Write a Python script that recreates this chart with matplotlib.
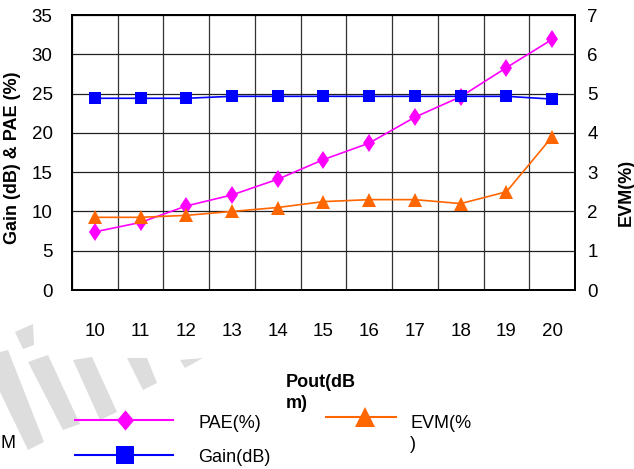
import matplotlib.pyplot as plt
import numpy as np
from matplotlib.lines import Line2D
from matplotlib.patches import Polygon

# data --------------------------------------------------
pout = [10, 11, 12, 13, 14, 15, 16, 17, 18, 19, 20]
pae = [7.4, 8.6, 10.7, 12.1, 14.1, 16.6, 18.7, 22.0, 24.6, 28.3, 31.9]
gain = [24.4, 24.4, 24.4, 24.65, 24.65, 24.65, 24.65, 24.65, 24.65, 24.65, 24.3]
evm = [1.85, 1.85, 1.9, 2.0, 2.1, 2.25, 2.3, 2.3, 2.2, 2.5, 3.9]
left_ticks = [0, 5, 10, 15, 20, 25, 30, 35]
right_ticks = [0, 1, 2, 3, 4, 5, 6, 7]

W, H = 634, 469


def px(x, y):
    """pixel coords of the picture -> figure fraction"""
    return x / W, 1 - y / H


plt.rcParams['font.family'] = ['Liberation Sans', 'DejaVu Sans']

fig = plt.figure(figsize=(W / 100, H / 100), dpi=100)

# watermark stripes ------------------------------
stripes = [
    [(15, 332), (33, 324), (34, 345), (23, 349)],
    [(0, 352), (8, 350), (44, 442), (28, 450), (0, 392)],
    [(28, 362), (48, 355), (80, 424), (63, 430)],
    [(73, 360), (92, 357), (117, 412), (100, 420)],
    [(127, 358), (147, 358), (157, 383), (143, 390)],
    [(180, 360), (203, 358), (185, 368)],
]
for s in stripes:
    fig.add_artist(Polygon([px(*p) for p in s], closed=True, color='#dddddd',
                           lw=0, transform=fig.transFigure, zorder=0))

ax = fig.add_axes([72 / W, 1 - 290 / H, 503 / W, 275 / H])
ax2 = ax.twinx()

ax.set_xlim(9.5, 20.5)
ax.set_ylim(0, 35)
ax2.set_ylim(0, 7)

ax.set_xticks(pout)
ax.set_xticks(np.arange(9.5, 20.6, 0.5), minor=True)
ax.set_yticks(left_ticks)
ax2.set_yticks(right_ticks)

ax.grid(True, which='minor', axis='x', color='#333333', lw=0.9)
ax.grid(True, which='major', axis='y', color='#222222', lw=0.9)
ax.set_axisbelow(True)

l1, = ax.plot(pout, pae, color='#ff00ff', lw=1.2, marker='d', markersize=9.5,
              markeredgewidth=0, zorder=3)
l2, = ax.plot(pout, gain, color='#0000ff', lw=1.2, marker='s', markersize=9,
              markeredgewidth=0, zorder=3)
l3, = ax2.plot(pout, evm, color='#ff6600', lw=1.2, marker='^', markersize=10,
               markeredgewidth=0, zorder=3)

for a in (ax, ax2):
    for sp in a.spines.values():
        sp.set_color('black')
        sp.set_linewidth(1.3)

ax.tick_params(axis='x', which='both', length=0, pad=24, labelsize=13.5)
ax.tick_params(axis='y', length=0, pad=14, labelsize=13.5)
ax2.tick_params(axis='y', length=0, pad=9, labelsize=13.5)

ax.set_ylabel('Gain (dB) & PAE (%)', fontsize=13, fontweight='bold')
ax.yaxis.set_label_coords(-0.101, 0.48)
ax2.set_ylabel('EVM(%)', fontsize=13, fontweight='bold')
ax2.yaxis.set_label_coords(1.085, 0.353)

# axis title and legend under the chart ------------------------------
fig.text(*px(286, 382), 'Pout(dB', fontsize=13, fontweight='bold', va='center')
fig.text(*px(286, 403), 'm)', fontsize=13, fontweight='bold', va='center')
fig.text(*px(0, 443), 'M', fontsize=13, va='center')

wide_diamond = [(0, 1), (0.85, 0), (0, -1), (-0.85, 0), (0, 1)]
legend_items = [
    (l1, (75, 173), 420, 125, wide_diamond, 14.5, 'PAE(%)', 198, 423),
    (l2, (75, 173), 455, 125, 's', 13, 'Gain(dB)', 198, 457),
    (l3, (326, 396), 417, 365, '^', 15, 'EVM(%\n)', 410, 434),
]
for line, (xa, xb), y, xm, mk, ms, label, tx, ty in legend_items:
    fig.add_artist(Line2D([xa / W, xb / W], [1 - y / H] * 2, color=line.get_color(),
                          lw=1.5, transform=fig.transFigure))
    fig.add_artist(Line2D([xm / W], [1 - y / H], color=line.get_color(),
                          marker=mk, markersize=ms, markeredgewidth=0,
                          transform=fig.transFigure))
    fig.text(*px(tx, ty), label, fontsize=13, va='center', linespacing=1.25)

plt.savefig('out.png', dpi=100)
